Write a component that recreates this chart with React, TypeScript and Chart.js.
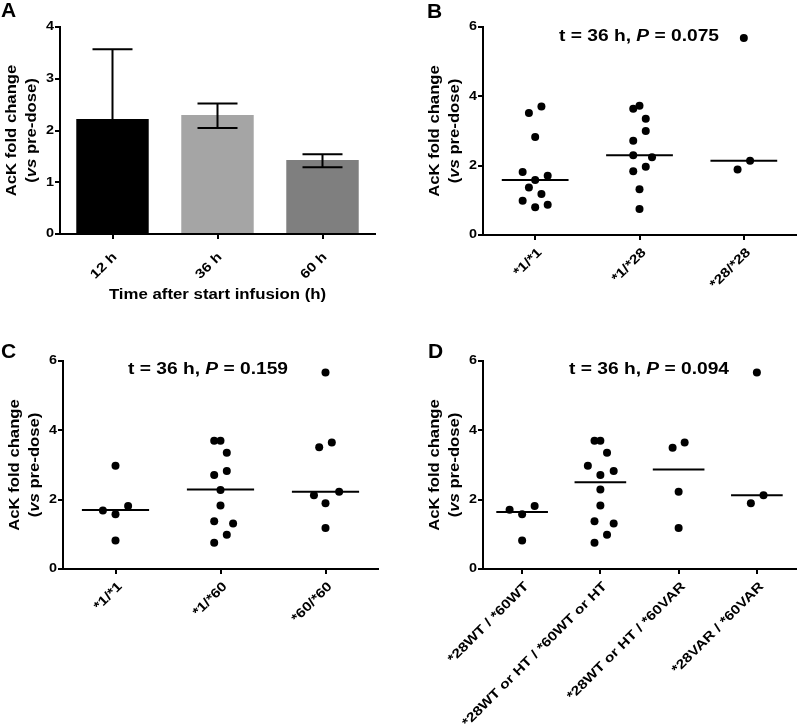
import React, { useEffect, useRef } from 'react';
import { Chart, registerables } from 'chart.js';

Chart.register(...registerables);

const FONT = '"Liberation Sans", Arial, Helvetica, sans-serif';

// ---------- Panel A ----------
const aCategories = ['12 h', '36 h', '60 h'];
const aMeans = [2.22, 2.30, 1.43];
const aErrUpper = [3.57, 2.52, 1.54];
const aErrLower: (number | null)[] = [null, 2.05, 1.29];
const aColors = ['#000000', '#a5a5a5', '#7f7f7f'];
const aYTicks = [0, 1, 2, 3, 4];

// ---------- Scatter panels shared ----------
const scatterYTicks = [0, 2, 4, 6];

// ---------- Panel B ----------
const bCategories = ['*1/*1', '*1/*28', '*28/*28'];
const bValues = [
  [3.52, 3.71, 2.83, 1.82, 1.59, 1.71, 1.37, 1.18, 0.99, 0.80, 0.87],
  [3.64, 3.73, 3.35, 3.00, 2.72, 2.30, 2.24, 1.97, 1.84, 1.32, 0.75],
  [5.68, 1.89, 2.14],
];
const bJitter = [
  [-0.06, 0.06, 0, -0.12, 0, 0.12, -0.06, 0.06, -0.12, 0, 0.12],
  [-0.06, 0, 0.06, 0.06, -0.06, -0.06, 0.12, 0.06, -0.06, 0, 0],
  [0, -0.06, 0.06],
];
const bMedians = [1.59, 2.30, 2.14];

// ---------- Panel C ----------
const cCategories = ['*1/*1', '*1/*60', '*60/*60'];
const cValues = [
  [2.98, 1.69, 1.58, 1.82, 0.82],
  [3.70, 3.70, 3.35, 2.71, 2.83, 2.28, 1.83, 1.38, 1.31, 0.99, 0.76],
  [5.67, 3.51, 3.65, 2.13, 2.23, 1.90, 1.18],
];
const cJitter = [
  [0, -0.12, 0, 0.12, 0],
  [-0.06, 0, 0.06, -0.06, 0.06, 0, 0, -0.06, 0.12, 0.06, -0.06],
  [0, -0.06, 0.06, -0.11, 0.13, 0, 0],
];
const cMedians = [1.70, 2.29, 2.23];

// ---------- Panel D ----------
const dCategories = ['*28WT / *60WT', '*28WT or HT / *60WT or HT', '*28WT or HT / *60VAR', '*28VAR / *60VAR'];
const dValues = [
  [1.71, 1.58, 1.82, 0.82],
  [3.70, 3.70, 3.35, 2.98, 2.83, 2.71, 2.29, 1.83, 1.38, 1.31, 0.99, 0.76],
  [3.50, 3.65, 2.23, 1.18],
  [5.67, 1.90, 2.13],
];
const dJitter = [
  [-0.16, 0, 0.16, 0],
  [-0.075, 0, 0.085, -0.16, 0.17, 0, 0, 0, -0.075, 0.17, 0.085, -0.075],
  [-0.077, 0.077, 0, 0],
  [0, -0.077, 0.085],
];
const dMedians = [1.645, 2.50, 2.87, 2.13];

const pTextB = ['t = 36 h, ', 'P', ' = 0.075'];
const pTextC = ['t = 36 h, ', 'P', ' = 0.159'];
const pTextD = ['t = 36 h, ', 'P', ' = 0.094'];

type Part = { t: string; italic?: boolean };

function drawParts(
  ctx: CanvasRenderingContext2D,
  parts: Part[],
  size: number,
  x: number,
  y: number,
  align: 'left' | 'center' | 'right',
  rot: number,
  sx: number,
  baseline: CanvasTextBaseline = 'middle'
) {
  ctx.save();
  ctx.translate(x, y);
  ctx.rotate(rot);
  ctx.scale(sx, 1);
  ctx.fillStyle = '#000';
  ctx.textAlign = 'left';
  ctx.textBaseline = baseline;
  const fonts = parts.map((p) => `${p.italic ? 'italic ' : ''}bold ${size}px ${FONT}`);
  const widths = parts.map((p, i) => {
    ctx.font = fonts[i];
    return ctx.measureText(p.t).width;
  });
  const total = widths.reduce((a, b) => a + b, 0);
  let cx = align === 'left' ? 0 : align === 'center' ? -total / 2 : -total;
  parts.forEach((p, i) => {
    ctx.font = fonts[i];
    ctx.fillText(p.t, cx, 0);
    cx += widths[i];
  });
  ctx.restore();
}

interface Decor {
  letter: string;
  letterX: number;
  letterY: number;
  yTicks: number[];
  xLabels: string[];
  xLabelDx: number;
  xLabelDy: number;
  xTitle?: string;
  xTitleY?: number;
  pText?: string[];
  pX?: number;
  pY?: number;
  errorBars?: boolean;
}

function makeDecor(d: Decor) {
  return {
    id: 'decor' + d.letter,
    afterDatasetsDraw(chart: any) {
      if (!d.errorBars) return;
      const ctx = chart.ctx as CanvasRenderingContext2D;
      const xs = chart.scales.x;
      const ys = chart.scales.y;
      ctx.save();
      ctx.strokeStyle = '#000';
      ctx.lineWidth = 2;
      const cap = 20;
      aMeans.forEach((m, i) => {
        const x = xs.getPixelForValue(i);
        const yTop = ys.getPixelForValue(aErrUpper[i]);
        const lo = aErrLower[i];
        const yLow = lo == null ? ys.getPixelForValue(m) : ys.getPixelForValue(lo);
        ctx.beginPath();
        ctx.moveTo(x, yLow);
        ctx.lineTo(x, yTop);
        ctx.moveTo(x - cap, yTop);
        ctx.lineTo(x + cap, yTop);
        if (lo != null) {
          ctx.moveTo(x - cap, yLow);
          ctx.lineTo(x + cap, yLow);
        }
        ctx.stroke();
      });
      ctx.restore();
    },
    afterDraw(chart: any) {
      const ctx = chart.ctx as CanvasRenderingContext2D;
      const area = chart.chartArea;
      const xs = chart.scales.x;
      const ys = chart.scales.y;
      // panel letter
      drawParts(ctx, [{ t: d.letter }], 21, d.letterX, d.letterY, 'left', 0, 1, 'alphabetic');
      // y tick labels
      d.yTicks.forEach((v) => {
        drawParts(ctx, [{ t: String(v) }], 12, area.left - 6, ys.getPixelForValue(v), 'right', 0, 1.2);
      });
      // x tick labels
      d.xLabels.forEach((lab, i) => {
        const px = xs.getPixelForValue(i);
        drawParts(ctx, [{ t: lab }], 13, px + d.xLabelDx, area.bottom + d.xLabelDy, 'right', -Math.PI / 4, 1.2);
      });
      // y title
      const cy = (area.top + area.bottom) / 2;
      drawParts(ctx, [{ t: 'AcK fold change' }], 14.5, area.left - 48, cy, 'center', -Math.PI / 2, 1.15);
      drawParts(
        ctx,
        [{ t: '(' }, { t: 'vs', italic: true }, { t: ' pre-dose)' }],
        14.5,
        area.left - 28,
        cy,
        'center',
        -Math.PI / 2,
        1.15
      );
      if (d.xTitle && d.xTitleY != null) {
        drawParts(ctx, [{ t: d.xTitle }], 14, (area.left + area.right) / 2, d.xTitleY, 'center', 0, 1.2);
      }
      if (d.pText && d.pX != null && d.pY != null) {
        drawParts(
          ctx,
          [{ t: d.pText[0] }, { t: d.pText[1], italic: true }, { t: d.pText[2] }],
          16,
          d.pX,
          d.pY,
          'center',
          0,
          1.2
        );
      }
    },
  };
}

const axisGrid = {
  display: true,
  offset: false,
  drawOnChartArea: false,
  drawTicks: true,
  tickLength: 5,
  color: '#000',
  lineWidth: 2,
};
const axisBorder = { display: true, color: '#000', width: 2 };

function barConfig(): any {
  return {
    type: 'bar',
    data: {
      labels: aCategories,
      datasets: [
        {
          data: aMeans,
          backgroundColor: aColors,
          borderWidth: 0,
          barPercentage: 0.69,
          categoryPercentage: 1,
        },
      ],
    },
    options: {
      animation: false,
      responsive: false,
      events: [],
      layout: { padding: { left: 0, right: 25, top: 27, bottom: 0 } },
      plugins: { legend: { display: false }, tooltip: { enabled: false }, title: { display: false } },
      scales: {
        x: {
          type: 'category',
          offset: true,
          grid: axisGrid,
          border: axisBorder,
          ticks: { display: false },
          afterFit: (s: any) => {
            s.height = 129;
          },
        },
        y: {
          min: 0,
          max: 4,
          grid: axisGrid,
          border: axisBorder,
          ticks: { display: false, stepSize: 1 },
          afterBuildTicks: (s: any) => {
            s.ticks = aYTicks.map((v) => ({ value: v }));
          },
          afterFit: (s: any) => {
            s.width = 60;
          },
        },
      },
    },
    plugins: [
      makeDecor({
        letter: 'A',
        letterX: 1,
        letterY: 17,
        yTicks: aYTicks,
        xLabels: aCategories,
        xLabelDx: 2.4,
        xLabelDy: 21,
        xTitle: 'Time after start infusion (h)',
        xTitleY: 295,
        errorBars: true,
      }),
    ],
  };
}

function scatterConfig(
  cats: string[],
  values: number[][],
  jitter: number[][],
  medians: number[],
  halfWidth: number,
  pad: { right: number; top: number },
  yWidth: number,
  xHeight: number,
  decor: Decor
): any {
  const pointSets = values.map((vals, g) => ({
    data: vals.map((v, k) => ({ x: g + jitter[g][k], y: v })),
    pointRadius: 4,
    pointBackgroundColor: '#000',
    pointBorderWidth: 0,
    showLine: false,
  }));
  const medianSets = medians.map((m, g) => ({
    data: [
      { x: g - halfWidth, y: m },
      { x: g + halfWidth, y: m },
    ],
    showLine: true,
    borderColor: '#000',
    borderWidth: 2,
    pointRadius: 0,
  }));
  return {
    type: 'scatter',
    data: { datasets: [...medianSets, ...pointSets] },
    options: {
      animation: false,
      responsive: false,
      events: [],
      layout: { padding: { left: 0, right: pad.right, top: pad.top, bottom: 0 } },
      plugins: { legend: { display: false }, tooltip: { enabled: false } },
      scales: {
        x: {
          type: 'linear',
          min: -0.5,
          max: cats.length - 0.5,
          grid: axisGrid,
          border: axisBorder,
          ticks: { display: false },
          afterBuildTicks: (s: any) => {
            s.ticks = cats.map((_, i) => ({ value: i }));
          },
          afterFit: (s: any) => {
            s.height = xHeight;
          },
        },
        y: {
          type: 'linear',
          min: 0,
          max: 6,
          grid: axisGrid,
          border: axisBorder,
          ticks: { display: false },
          afterBuildTicks: (s: any) => {
            s.ticks = scatterYTicks.map((v) => ({ value: v }));
          },
          afterFit: (s: any) => {
            s.width = yWidth;
          },
        },
      },
    },
    plugins: [makeDecor(decor)],
  };
}

function Panel({ left, top, width, height, make }: { left: number; top: number; width: number; height: number; make: () => any }) {
  const ref = useRef<HTMLCanvasElement | null>(null);
  useEffect(() => {
    if (!ref.current) return;
    const chart = new Chart(ref.current, make());
    return () => chart.destroy();
  }, []);
  return (
    <canvas
      ref={ref}
      width={width}
      height={height}
      style={{ position: 'absolute', left, top, width, height, display: 'block' }}
    />
  );
}

export default function App() {
  return (
    <div style={{ position: 'absolute', left: 0, top: 0, width: 800, height: 726, background: '#fff', overflow: 'hidden' }}>
      <Panel left={0} top={0} width={400} height={363} make={barConfig} />
      <Panel
        left={400}
        top={0}
        width={400}
        height={363}
        make={() =>
          scatterConfig(bCategories, bValues, bJitter, bMedians, 0.32, { right: 2, top: 27 }, 83, 128, {
            letter: 'B',
            letterX: 27,
            letterY: 18,
            yTicks: scatterYTicks,
            xLabels: bCategories,
            xLabelDx: 4.7,
            xLabelDy: 15.5,
            pText: pTextB,
            pX: 239,
            pY: 37,
          })
        }
      />
      <Panel
        left={0}
        top={340}
        width={400}
        height={386}
        make={() =>
          scatterConfig(cCategories, cValues, cJitter, cMedians, 0.32, { right: 22, top: 21 }, 63, 157, {
            letter: 'C',
            letterX: 1,
            letterY: 18,
            yTicks: scatterYTicks,
            xLabels: cCategories,
            xLabelDx: 4.7,
            xLabelDy: 15.5,
            pText: pTextC,
            pX: 208,
            pY: 30,
          })
        }
      />
      <Panel
        left={400}
        top={340}
        width={400}
        height={386}
        make={() =>
          scatterConfig(dCategories, dValues, dJitter, dMedians, 0.33, { right: 2, top: 21 }, 83, 157, {
            letter: 'D',
            letterX: 28,
            letterY: 18,
            yTicks: scatterYTicks,
            xLabels: dCategories,
            xLabelDx: 4.7,
            xLabelDy: 15.5,
            pText: pTextD,
            pX: 249,
            pY: 30,
          })
        }
      />
    </div>
  );
}
